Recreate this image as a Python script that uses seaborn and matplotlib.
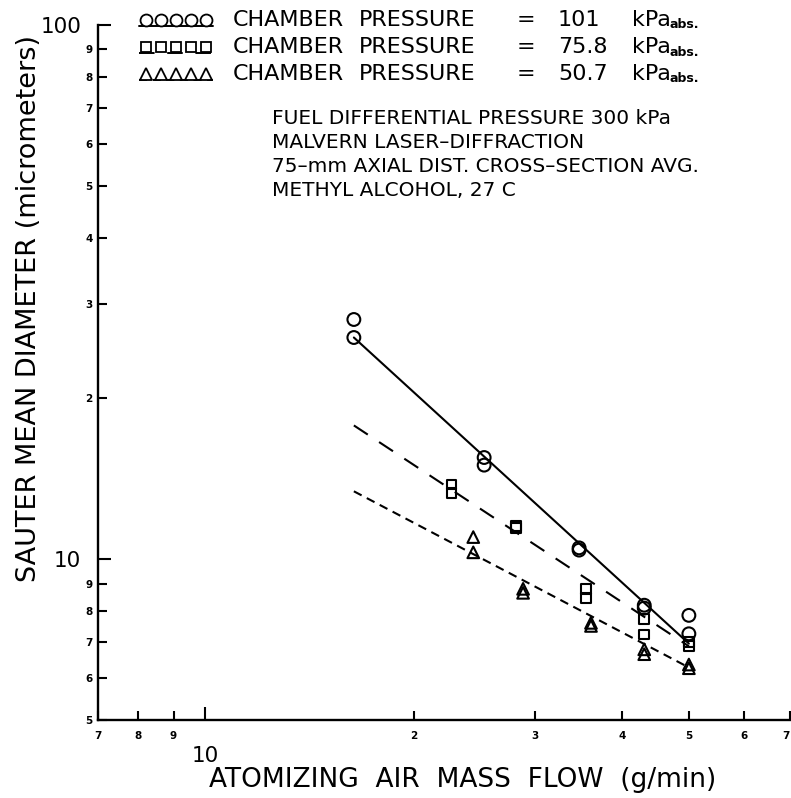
import matplotlib
matplotlib.use("Agg")
import matplotlib.pyplot as plt
from matplotlib.lines import Line2D
from matplotlib.ticker import FixedLocator, FixedFormatter
import seaborn as sns

# Measured droplet sizes (Sauter mean diameter, micrometers) vs atomizing air flow (g/min)
flow_101 = [16.4, 16.4, 25.3, 25.3, 34.7, 34.7, 43.1, 43.1, 50.0, 50.0]
smd_101 = [28.1, 26.0, 15.5, 15.0, 10.5, 10.4, 8.2, 8.1, 7.85, 7.25]

flow_758 = [22.7, 22.7, 28.1, 28.1, 35.5, 35.5, 43.1, 43.1, 50.0, 50.0]
smd_758 = [13.8, 13.3, 11.55, 11.45, 8.8, 8.45, 7.72, 7.23, 7.0, 6.87]

flow_507 = [24.4, 24.4, 28.8, 28.8, 36.1, 36.1, 43.1, 43.1, 50.0, 50.0]
smd_507 = [11.0, 10.3, 8.8, 8.65, 7.6, 7.5, 6.78, 6.64, 6.35, 6.25]

# Power-law fit lines (end points)
fit_flow = [16.4, 50.0]
fit_101 = [26.0, 6.95]
fit_758 = [17.8, 6.87]
fit_507 = [13.4, 6.27]

pressure_labels = ["101", "75.8", "50.7"]
notes = [
    "FUEL DIFFERENTIAL PRESSURE 300 kPa",
    "MALVERN LASER\u2013DIFFRACTION",
    "75\u2013mm AXIAL DIST. CROSS\u2013SECTION AVG.",
    "METHYL ALCOHOL, 27 C",
]

x_minor_ticks = [7, 8, 9, 20, 30, 40, 50, 60, 70]
x_minor_labels = ["7", "8", "9", "2", "3", "4", "5", "6", "7"]
y_minor_ticks = [5, 6, 7, 8, 9, 20, 30, 40, 50, 60, 70, 80, 90]
y_minor_labels = ["5", "6", "7", "8", "9", "2", "3", "4", "5", "6", "7", "8", "9"]

sns.set_theme(style="ticks", rc={
    "axes.edgecolor": "black", "text.color": "black",
    "xtick.color": "black", "ytick.color": "black",
    "axes.labelcolor": "black",
})
plt.rcParams["font.family"] = ["DejaVu Sans"]

W, H = 791, 798
fig = plt.figure(figsize=(W / 100, H / 100), dpi=100)
fig.patch.set_facecolor("white")
ax = fig.add_axes([98 / W, 78 / H, 692 / W, 695 / H])
ax.set_facecolor("white")
ax.set_xscale("log")
ax.set_yscale("log")

LONG_DASH = (0, (8, 6.5))
SHORT_DASH = (0, (4.2, 2.8))
MEW = 1.5

# fit lines
sns.lineplot(x=fit_flow, y=fit_101, color="black", linewidth=1.5, ax=ax)
sns.lineplot(x=fit_flow, y=fit_758, color="black", linewidth=1.5, linestyle=LONG_DASH, ax=ax)
sns.lineplot(x=fit_flow, y=fit_507, color="black", linewidth=1.5, linestyle=SHORT_DASH, ax=ax)

# measurements
sns.scatterplot(x=flow_101, y=smd_101, marker="o", s=85, facecolors="none",
                edgecolors="black", linewidths=MEW, ax=ax, zorder=3)
sns.scatterplot(x=flow_758, y=smd_758, marker="s", s=50, facecolors="none",
                edgecolors="black", linewidths=MEW, ax=ax, zorder=3)
sns.scatterplot(x=flow_507, y=smd_507, marker="^", s=70, facecolors="none",
                edgecolors="black", linewidths=MEW, ax=ax, zorder=3)
for coll in ax.collections:
    coll.set_facecolor("none")
    coll.set_edgecolor("black")

ax.set_xlim(7, 70)
ax.set_ylim(5, 100)

for side in ("top", "right"):
    ax.spines[side].set_visible(False)
for side in ("left", "bottom"):
    ax.spines[side].set_linewidth(1.7)

ax.xaxis.set_major_locator(FixedLocator([10]))
ax.xaxis.set_major_formatter(FixedFormatter(["10"]))
ax.xaxis.set_minor_locator(FixedLocator(x_minor_ticks))
ax.xaxis.set_minor_formatter(FixedFormatter(x_minor_labels))
ax.yaxis.set_major_locator(FixedLocator([10, 100]))
ax.yaxis.set_major_formatter(FixedFormatter(["10", "100"]))
ax.yaxis.set_minor_locator(FixedLocator(y_minor_ticks))
ax.yaxis.set_minor_formatter(FixedFormatter(y_minor_labels))

ax.tick_params(which="both", direction="in", width=1.5, color="black")
ax.tick_params(which="major", length=9.5, labelsize=15.5)
ax.tick_params(which="minor", length=6.5, labelsize=7.5)
ax.tick_params(axis="y", which="major", pad=12)
ax.tick_params(axis="y", which="minor", pad=4)
ax.tick_params(axis="x", which="major", pad=19)
ax.tick_params(axis="x", which="minor", pad=8)

ax.set_ylabel("SAUTER MEAN DIAMETER (micrometers)", fontsize=19.5)
ax.yaxis.label.set_va("center")
ax.yaxis.set_label_coords((29 - 98) / 692, (720 - 309) / 695)
ax.set_xlabel("ATOMIZING  AIR  MASS  FLOW  (g/min)", fontsize=19)
ax.xaxis.label.set_va("center")
ax.xaxis.set_label_coords((463 - 98) / 692, (720 - 780) / 695)


def fx(px):
    return px / W


def fy(py):
    return 1 - py / H


# legend block
rows = [
    ("o", 8.6, "-", 20),
    ("s", 7.0, LONG_DASH, 47),
    ("^", 8.0, SHORT_DASH, 74),
]
marker_x = [146, 161, 176, 191, 206]
for (mk, ms, ls, ry), pval in zip(rows, pressure_labels):
    fig.add_artist(Line2D([fx(139), fx(213)], [fy(ry + 6), fy(ry + 6)],
                          transform=fig.transFigure, color="black", lw=1.4, linestyle=ls))
    fig.add_artist(Line2D([fx(v) for v in marker_x], [fy(ry)] * 5,
                          transform=fig.transFigure, linestyle="none", marker=mk,
                          markersize=ms, markerfacecolor="white",
                          markeredgecolor="black", markeredgewidth=1.3))
    fig.text(fx(233), fy(ry), "CHAMBER", fontsize=16, ha="left", va="center")
    fig.text(fx(359), fy(ry), "PRESSURE", fontsize=16, ha="left", va="center")
    fig.text(fx(526), fy(ry), "=", fontsize=16, ha="center", va="center")
    fig.text(fx(558), fy(ry), pval, fontsize=16, ha="left", va="center")
    fig.text(fx(632), fy(ry), "kPa", fontsize=16, ha="left", va="center")
    fig.text(fx(670), fy(ry + 5), "abs.", fontsize=9, fontweight="bold",
             ha="left", va="center")

note_y = [118, 143, 167, 191]
for txt, ny in zip(notes, note_y):
    fig.text(fx(272), fy(ny), txt, fontsize=14.5, ha="left", va="center")

fig.canvas.draw()
for t in ax.xaxis.get_minor_ticks() + ax.yaxis.get_minor_ticks():
    t.label1.set_fontweight("bold")
# keep the label of the last tick at the right edge inside the figure
ax.xaxis.get_minor_ticks()[-1].label1.set_horizontalalignment("right")

fig.savefig("out.png", dpi=100, facecolor="white")
